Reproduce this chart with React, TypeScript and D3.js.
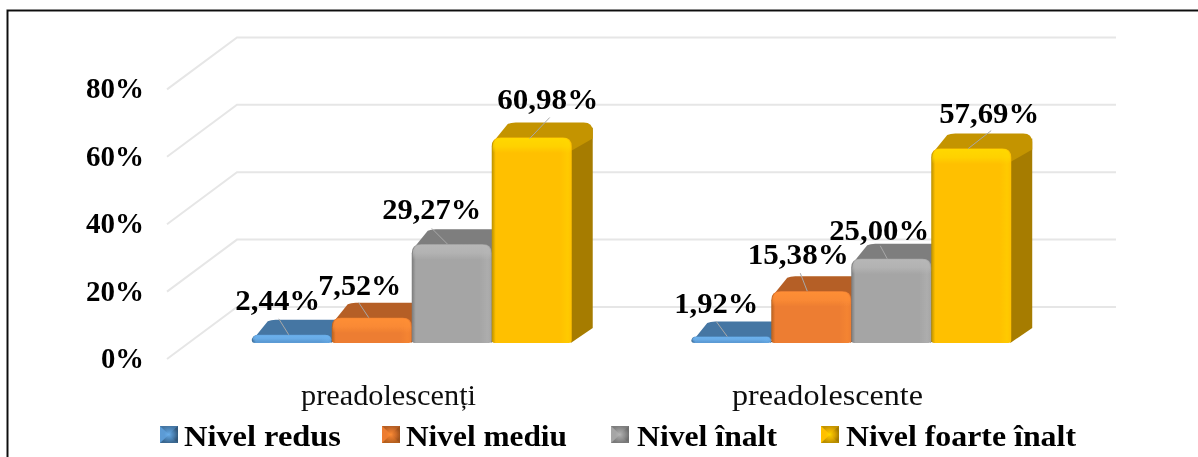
import React from "react";
import * as d3 from "d3";

const categories = ["preadolescenți", "preadolescente"];
const seriesNames = ["Nivel redus", "Nivel mediu", "Nivel înalt", "Nivel foarte înalt"];
const preadolescenti = [2.44, 7.52, 29.27, 60.98];
const preadolescente = [1.92, 15.38, 25.0, 57.69];
const valueLabels = [
  ["2,44%", "7,52%", "29,27%", "60,98%"],
  ["1,92%", "15,38%", "25,00%", "57,69%"],
];
const yTicks = [0, 20, 40, 60, 80];

// presentation constants (not data)
const palette = [
  { base: "#5B9BD5", hi: "#6DB2EE", top: "#4576A3", side: "#33597C", dark: "#3A6790" },
  { base: "#ED7D31", hi: "#FF8F36", top: "#B55F25", side: "#A0521E", dark: "#B5601F" },
  { base: "#A5A5A5", hi: "#B8B8B8", top: "#7E7E7E", side: "#707070", dark: "#7A7A7A" },
  { base: "#FFC000", hi: "#FFD900", top: "#C49400", side: "#A67C00", dark: "#B98F00" },
];
// label anchor offsets relative to each bar's centre and top, [dx, baseline dy, width]
const labelLayout = [
  [[-14, -25, 85], [-12, -23, 83], [-20, -25, 99], [16, -28, 101]],
  [[-15, -24, 84], [-13, -27, 101], [-12, -19, 100], [18, -26, 100]],
];
// leader line offsets: [fromDx, fromDy, toDx, toDy]
const leaderLayout = [
  [[-13, -16, -3, 0], [-13, -15, -3, 0], [-20, -16, -4, 0], [18, -20, -2, 1]],
  [[-15, -15, -4, 0], [-11, -18, -4, 0], [-11, -13, -4, 0], [20, -18, -3, 0]],
];
const legendLayout = [
  { swatch: 160, text: 184, width: 157 },
  { swatch: 382, text: 406, width: 161 },
  { swatch: 611, text: 637, width: 140 },
  { swatch: 821, text: 846, width: 230 },
];

const width = 1198;
const height = 457;
const depthX = 21;
const depthY = 15;
const serif = "'Liberation Serif', 'Times New Roman', serif";

const y = d3.scaleLinear().domain([0, 80]).range([343, 343 - 269.6]);
const xGroup = d3.scaleBand<string>().domain(categories).range([192, 1071]).paddingInner(0.272).paddingOuter(0.136);
const xBar = d3.scaleBand<string>().domain(seriesNames).range([0, xGroup.bandwidth()]);
const pct = d3.format("d");

function frontPath(x: number, w: number, yTop: number, yBase: number) {
  const r = Math.min(9, (yBase - yTop) * 0.8);
  const rb = 3;
  const p = d3.path();
  p.moveTo(x, yTop + r);
  p.quadraticCurveTo(x, yTop, x + r, yTop);
  p.lineTo(x + w - r, yTop);
  p.quadraticCurveTo(x + w, yTop, x + w, yTop + r);
  p.lineTo(x + w, yBase - rb);
  p.quadraticCurveTo(x + w, yBase, x + w - rb, yBase);
  p.lineTo(x + rb, yBase);
  p.quadraticCurveTo(x, yBase, x, yBase - rb);
  p.closePath();
  return p.toString();
}

function topPath(x: number, w: number, yTop: number, yBase: number) {
  const drop = Math.min(13, (yBase - yTop) * 0.5);
  const p = d3.path();
  p.moveTo(x + 1, yTop + 5);
  p.lineTo(x + depthX - 5, yTop - depthY + 1.5);
  p.quadraticCurveTo(x + depthX - 2, yTop - depthY, x + depthX + 3, yTop - depthY);
  p.lineTo(x + w + depthX - 9, yTop - depthY);
  p.quadraticCurveTo(x + w + depthX, yTop - depthY, x + w + depthX, yTop - depthY + 9);
  p.lineTo(x + w + depthX, yTop - depthY + drop + 3);
  p.lineTo(x + w, yTop + drop);
  p.closePath();
  return p.toString();
}

function sidePath(x: number, w: number, yTop: number, yBase: number) {
  const p = d3.path();
  p.moveTo(x + w - 1, yTop + 5);
  p.lineTo(x + w + depthX, yTop - depthY + 5);
  p.lineTo(x + w + depthX, yBase - depthY);
  p.lineTo(x + w - 1, yBase);
  p.closePath();
  return p.toString();
}

function Swatch({ x, index }: { x: number; index: number }) {
  const color = palette[index];
  const s = 18;
  const t = 426;
  const h = 17;
  const cx = x + s / 2;
  const cy = t + h / 2;
  return (
    <g>
      <rect x={x} y={t} width={s} height={h} fill={color.dark} />
      <polygon points={`${x},${t} ${x + s},${t} ${cx},${cy}`} fill={color.top} />
      <polygon points={`${x},${t} ${x},${t + h} ${cx},${cy}`} fill={color.base} />
      <polygon points={`${x + s},${t} ${x + s},${t + h} ${cx},${cy}`} fill={color.side} />
      <rect x={x} y={t} width={s} height={h} fill={`url(#sw${index})`} />
    </g>
  );
}

export default function App() {
  const groups = [preadolescenti, preadolescente];
  return (
    <svg
      width={width}
      height={height}
      viewBox={`0 0 ${width} ${height}`}
      style={{ position: "absolute", left: 0, top: 0, display: "block", background: "#fff" }}
    >
      <defs>
        <filter id="soft" x="-2%" y="-2%" width="104%" height="104%">
          <feGaussianBlur stdDeviation="0.6" />
        </filter>
        {palette.map((c, i) => (
          <g key={i}>
            <linearGradient id={`h${i}`} x1="0" x2="1" y1="0" y2="0">
              <stop offset="0" stopColor={c.dark} />
              <stop offset="0.05" stopColor={c.base} />
              <stop offset="0.85" stopColor={c.base} />
              <stop offset="0.95" stopColor={d3.interpolateRgb(c.base, c.hi)(0.4)} />
              <stop offset="1" stopColor={c.base} />
            </linearGradient>
            <linearGradient id={`v${i}`} x1="0" x2="0" y1="0" y2="1">
              <stop offset="0" stopColor={c.hi} stopOpacity={0.95} />
              <stop offset="0.55" stopColor={c.hi} stopOpacity={0.7} />
              <stop offset="1" stopColor={c.hi} stopOpacity={0} />
            </linearGradient>
            <radialGradient id={`sw${i}`}>
              <stop offset="0" stopColor={c.hi} stopOpacity={0.95} />
              <stop offset="0.55" stopColor={c.base} stopOpacity={0.6} />
              <stop offset="1" stopColor={c.base} stopOpacity={0} />
            </radialGradient>
          </g>
        ))}
      </defs>
      <g filter="url(#soft)">
        <path d={`M7.5,457V10.5H${width}`} fill="none" stroke="#111" strokeWidth={2} />
        {yTicks.map((t) => {
          const front = y(t) + 16;
          const back = y(t) - 36;
          return (
            <g key={t}>
              <path d={`M167,${front}L237,${back}H1116`} fill="none" stroke="#e6e6e6" strokeWidth={2} />
              <text
                x={144}
                y={front + 9}
                textAnchor="end"
                fontFamily={serif}
                fontWeight="bold"
                fontSize={29}
                fill="#000"
                textLength={t === 0 ? 43 : 58}
                lengthAdjust="spacingAndGlyphs"
              >
                {pct(t)}%
              </text>
            </g>
          );
        })}

        {categories.map((cat, g) =>
          seriesNames.map((s, i) => {
            const v = groups[g][i];
            const bx = (xGroup(cat) as number) + (xBar(s) as number);
            const bw = xBar.bandwidth();
            const top = y(v);
            const base = y(0);
            const band = Math.min(15, (base - top) * 0.75);
            return (
              <g key={`${cat}-${s}`}>
                <path d={sidePath(bx, bw, top, base)} fill={palette[i].side} />
                <path d={topPath(bx, bw, top, base)} fill={palette[i].top} />
                <path d={frontPath(bx, bw, top, base)} fill={`url(#h${i})`} />
                <path d={frontPath(bx + 1, bw - 2, top + 0.5, top + 0.5 + band)} fill={`url(#v${i})`} />
              </g>
            );
          })
        )}

        {categories.map((cat, g) =>
          seriesNames.map((s, i) => {
            const v = groups[g][i];
            const cx = (xGroup(cat) as number) + (xBar(s) as number) + xBar.bandwidth() / 2;
            const top = y(v);
            const [dx, dy, w] = labelLayout[g][i];
            const [fx, fy, tx, ty] = leaderLayout[g][i];
            return (
              <g key={`l-${cat}-${s}`}>
                <line x1={cx + fx} y1={top + fy} x2={cx + tx} y2={top + ty} stroke="#a8a8a8" strokeWidth={1} />
                <text
                  x={cx + dx}
                  y={top + dy}
                  textAnchor="middle"
                  fontFamily={serif}
                  fontWeight="bold"
                  fontSize={29}
                  fill="#000"
                  textLength={w}
                  lengthAdjust="spacingAndGlyphs"
                >
                  {valueLabels[g][i]}
                </text>
              </g>
            );
          })
        )}

        {categories.map((cat, g) => (
          <text
            key={cat}
            x={g === 0 ? 388.5 : 827.5}
            y={405}
            textAnchor="middle"
            fontFamily={serif}
            fontSize={29}
            fill="#111"
            textLength={g === 0 ? 175 : 191}
            lengthAdjust="spacingAndGlyphs"
          >
            {cat}
          </text>
        ))}

        {seriesNames.map((s, i) => (
          <g key={s}>
            <Swatch x={legendLayout[i].swatch} index={i} />
            <text
              x={legendLayout[i].text}
              y={446}
              fontFamily={serif}
              fontWeight="bold"
              fontSize={29}
              fill="#000"
              textLength={legendLayout[i].width}
              lengthAdjust="spacingAndGlyphs"
            >
              {s}
            </text>
          </g>
        ))}
      </g>
    </svg>
  );
}
